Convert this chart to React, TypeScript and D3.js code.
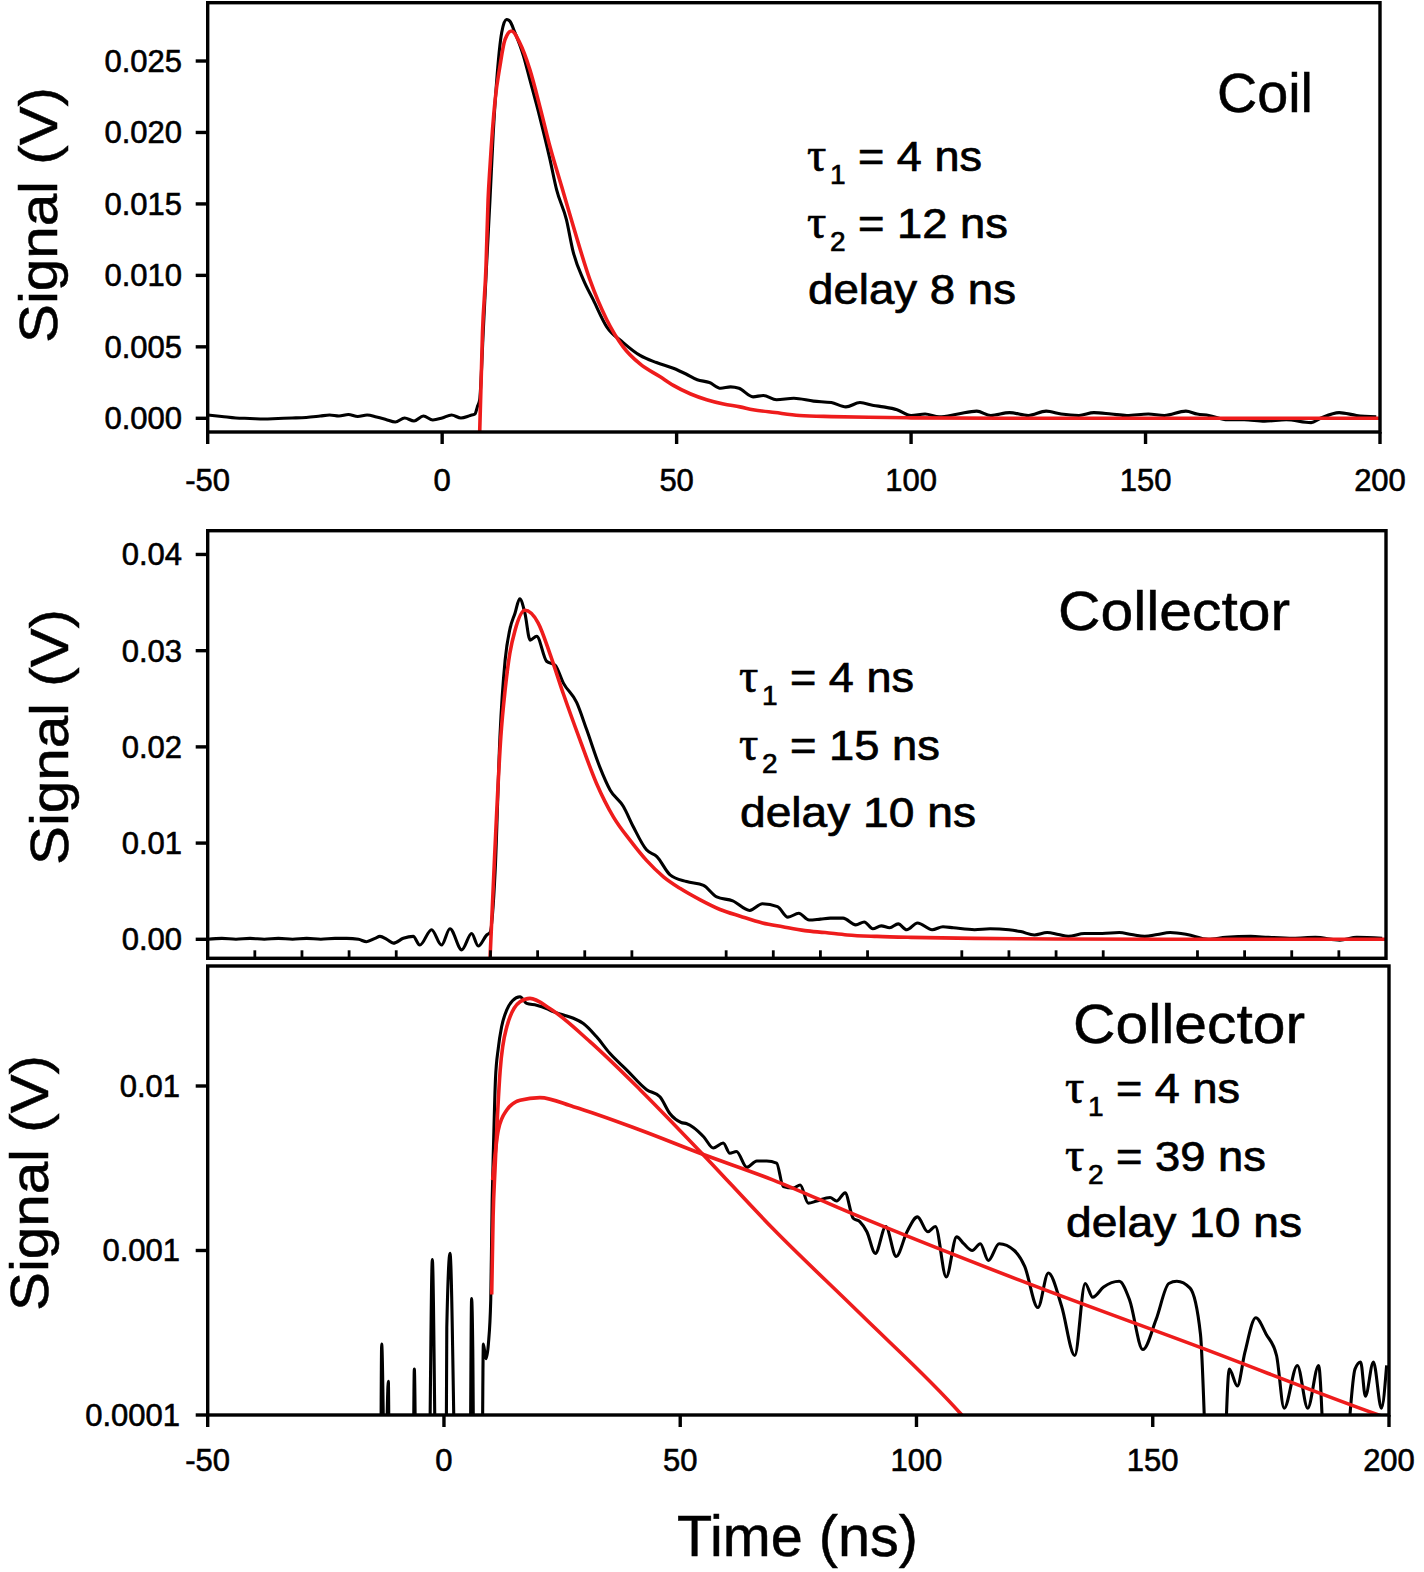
import React from "react";
import * as d3 from "d3";

// ---------- DATA ----------
const X_TICKS = [-50, 0, 50, 100, 150, 200];
const X_MINOR_TICKS = [-40, -30, -20, -10, 10, 20, 30, 40, 60, 70, 80, 90, 110, 120, 130, 140, 160, 170, 180, 190];
const COIL_Y_TICKS = [0, 0.005, 0.01, 0.015, 0.02, 0.025];
const COLL_Y_TICKS = [0, 0.01, 0.02, 0.03, 0.04];
const LOG_Y_TICKS = [0.0001, 0.001, 0.01];
const LOG_Y_LABELS = ["0.0001", "0.001", "0.01"];

// Panel 1 : coil signal (black) and fit (red)  [time ns, signal V]
const COIL_SIGNAL: [number, number][] = [
  [-50, 0.00023], [-47, 0.00013], [-44, 0.00002], [-41, -0.00001], [-38, -0.00005], [-35, -0.00001], [-32, 0.00002], [-29, 0.00006], [-26, 0.00016], [-24, 0.00023],
  [-22, 0.00016], [-20, 0.00027], [-18, 0.00013], [-16, 0.00023], [-14, 0.00009], [-12, -0.00008], [-10, -0.00026], [-8, 0.00002], [-6, -0.00019], [-4, 0.00016],
  [-2, -0.00012], [0, 0.00002], [2, 0.00023], [4, 0.00002], [6, 0.0002], [7, 0.0003], [7.5, 0.0008], [8, 0.0013], [8.75, 0.006], [9.45, 0.0106],
  [10.2, 0.0153], [10.9, 0.02], [11.6, 0.0235], [12.7, 0.027], [13.7, 0.0279], [14.4, 0.0278], [15.5, 0.027], [17.3, 0.0254], [18.7, 0.0237], [20.8, 0.0211],
  [23, 0.0181], [24.4, 0.016], [26.5, 0.0139], [27.9, 0.0117], [30.1, 0.0097], [32.2, 0.0083], [35.1, 0.0064], [38.6, 0.0053], [42.2, 0.0044], [45.7, 0.0039],
  [49.3, 0.0035], [52, 0.0031], [54.4, 0.0027], [57, 0.0025], [59.4, 0.0021], [61.5, 0.0022], [63.3, 0.0021], [66.3, 0.0015], [68.5, 0.0016], [71.3, 0.0013],
  [75, 0.0014], [79.2, 0.0012], [83, 0.0011], [86.1, 0.0008], [89.1, 0.0011], [92, 0.0009], [94.1, 0.0008], [97, 0.0006], [100, 0.0002], [103, 0.0003],
  [106, 0.0001], [110, 0.0003], [114, 0.0005], [117, 0.0002], [121, 0.0004], [125, 0.0002], [128.8, 0.0005], [132, 0.0003], [135.8, 0.0002], [139, 0.0004],
  [142.7, 0.0003], [146, 0.0002], [150.6, 0.0003], [154, 0.0002], [158.6, 0.0005], [161, 0.0003], [163.5, 0.0002], [167.5, -0.0001], [171, -0.0001], [175.4, -0.0002],
  [180, -0.0001], [185.3, -0.0003], [187.3, 0], [191.3, 0.0004], [195, 0.0002], [199.2, 0.0001],
];
const COIL_FIT: [number, number][] = [
  [8.0, -0.001], [8.6, 0.006], [9.35, 0.0106], [9.8, 0.0153], [10.2, 0.0176], [11.3, 0.0223], [12.3, 0.0246], [13.4, 0.0265], [14.8, 0.0271], [16.5, 0.0263],
  [18.7, 0.0244], [21, 0.0216], [23, 0.019], [25.5, 0.0162], [28, 0.0134], [31.5, 0.0097], [35.1, 0.0069], [38.6, 0.005], [42.2, 0.0038], [46.5, 0.0029],
  [49.3, 0.0023], [53, 0.0017], [56.4, 0.0013], [60, 0.001], [63.5, 0.0008], [66.3, 0.0006], [71, 0.0004], [76.2, 0.0002], [83, 0.00012], [91, 0.00007],
  [100, 0.00003], [120, 0], [200, 0],
];

// Panel 2 : collector signal (linear)
const COLL_SIGNAL: [number, number][] = [
  [-50, 0], [-47, 0.0001], [-44, 0], [-41, 0.0001], [-38, 0], [-35, 0.0001], [-32, 0], [-29, 0.0001], [-26, 0], [-23, 0.0001],
  [-20.5, 0.0001], [-18, 0], [-16.3, -0.00025], [-14.5, 0.0001], [-13.45, 0.0003], [-12, 0], [-10.6, -0.0004], [-8.5, 0.0001], [-6.4, 0.0003], [-5, -0.0006],
  [-2.5, 0.001], [-0.4, -0.0006], [1.4, 0.0011], [3.9, -0.0011], [6, 0.0006], [7.4, -0.0007], [9.2, 0.00045], [9.9, 0.0007], [11, 0.0072], [12, 0.021],
  [13.1, 0.029], [14.1, 0.0322], [15.2, 0.0339], [16.2, 0.0354], [17.3, 0.0339], [18.4, 0.0311], [19.8, 0.0315], [21.9, 0.0289], [23.7, 0.0285], [25.5, 0.0266],
  [28.3, 0.0246], [30.4, 0.0218], [33.2, 0.0179], [35.4, 0.0155], [38.2, 0.0138], [40.3, 0.0117], [43.1, 0.0093], [45.3, 0.0086], [48.1, 0.0067], [51.6, 0.006],
  [55.2, 0.0056], [58, 0.0044], [61.4, 0.004], [65, 0.003], [67.7, 0.0037], [70.9, 0.0034], [73.1, 0.0023], [75.4, 0.0027], [77.6, 0.002], [80, 0.0021],
  [82.1, 0.0022], [84.8, 0.0022], [87.5, 0.0015], [89.3, 0.0018], [91.1, 0.0011], [92.9, 0.0014], [94.7, 0.0012], [96.5, 0.0016], [98.3, 0.001], [100.6, 0.0017],
  [103.7, 0.001], [106, 0.0013], [108.2, 0.0012], [112.7, 0.001], [116, 0.0011], [120, 0.001], [122.5, 0.0008], [125.4, 0.00045], [128.1, 0.0007], [130.5, 0.0005],
  [132.6, 0.0003], [136, 0.0006], [139.8, 0.0006], [143.4, 0.0007], [146, 0.0005], [148.8, 0.0003], [151.5, 0.0005], [154.2, 0.0007], [157.8, 0.0005], [162.3, 0],
  [166, 0.0002], [171.3, 0.0003], [175, 0.0002], [180.3, 0.0001], [185, 0.0002], [190.2, -0.0001], [193.8, 0.0002], [199.2, 0.0001],
];
const COLL_FIT: [number, number][] = [
  [9.9, -0.002], [10.9, 0.0089], [12.2, 0.0211], [13.1, 0.0259], [14.1, 0.0297], [15.2, 0.0321], [17.3, 0.0342], [20.1, 0.0329], [22.6, 0.0297], [25.4, 0.0256],
  [29, 0.0207], [32.5, 0.0162], [36.1, 0.0127], [39.6, 0.0103], [43.1, 0.0082], [46.7, 0.0065], [50.2, 0.0053], [54.5, 0.0041], [58.7, 0.0031], [63, 0.0024],
  [67.7, 0.0017], [72, 0.0013], [76.7, 0.0009], [81, 0.0007], [85.7, 0.00045], [92, 0.0003], [99.2, 0.0002], [112.7, 0.0001], [130, 0.00003], [160, 0], [200, 0],
];

// Panel 3 : collector signal on log axis (values under 1e-4 fall below the axis)
const LOG_SIGNAL: [number, number][] = [
  [-13.4, 0.00002], [-13.18, 0.00027], [-12.47, 0.00003], [-11.77, 0.00016], [-11.5, 0.00002], [-6.6, 0.00002], [-6.27, 0.00019], [-5.8, 0.00002], [-3.3, 0.00002], [-2.46, 0.00088],
  [-1.54, 0.00002], [0.4, 0.00002], [0.6, 0.00034], [1.28, 0.00096], [2.7, 0.00002], [5.45, 0.00002], [5.85, 0.00051], [6.1, 0.00025], [6.4, 0.00002], [7.98, 0.00002],
  [8.34, 0.00027], [8.9, 0.00022], [9.4, 0.00027], [9.9, 0.0005], [10.2, 0.002], [10.5, 0.0045], [10.9, 0.011], [11.5, 0.017], [12.2, 0.0229], [13.3, 0.029],
  [14.5, 0.033], [16.1, 0.0349], [17.5, 0.0318], [19.6, 0.031], [21.7, 0.0296], [23.1, 0.0283], [25.3, 0.027], [27.4, 0.0258], [29.5, 0.024], [32.3, 0.0199],
  [35.1, 0.0158], [38.7, 0.0125], [42.9, 0.0095], [45.7, 0.0086], [47.8, 0.0068], [50.2, 0.006], [51.4, 0.0059], [52.8, 0.0056], [55, 0.0049], [57, 0.0042],
  [59.1, 0.0045], [60.5, 0.0039], [61.9, 0.004], [64.1, 0.0032], [66.2, 0.0035], [68.3, 0.0035], [70.4, 0.0034], [71.8, 0.00245], [73.9, 0.0024], [75.4, 0.0025],
  [77.1, 0.00194], [78.9, 0.002], [81.7, 0.0021], [83.1, 0.002], [84.9, 0.00224], [86.6, 0.00157], [88, 0.0015], [89.5, 0.0013], [91.3, 0.00096], [93.5, 0.0014],
  [95.7, 0.00092], [98, 0.0013], [100.2, 0.0016], [102.4, 0.0013], [104, 0.0014], [106.3, 0.00069], [108.5, 0.00121], [110, 0.0011], [111.8, 0.001], [113.5, 0.0011],
  [115.2, 0.00087], [117.5, 0.0011], [120.7, 0.001], [122.9, 0.0008], [125.7, 0.00045], [127.9, 0.00073], [130.7, 0.00046], [133.5, 0.00023], [135.7, 0.00063], [137.3, 0.00052],
  [139.6, 0.0006], [142.9, 0.00065], [145.1, 0.0005], [147.9, 0.00025], [150.7, 0.00038], [153.4, 0.00063], [155.1, 0.00065], [157.9, 0.00059], [160.1, 0.00031], [161.8, 0.00003],
  [164.5, 0.00002], [166.2, 0.00019], [167.9, 0.00015], [169.5, 0.00024], [171.8, 0.00039], [174, 0.00031], [176.2, 0.00023], [177.8, 0.00011], [180.6, 0.0002], [182.8, 0.00011],
  [185.1, 0.0002], [186.7, 0.00004], [188.4, 0.00009], [190.5, 0.00005], [192.8, 0.00019], [194, 0.00021], [195, 0.00013], [196.7, 0.00021], [198.4, 0.00011], [199.5, 0.0002],
];
const LOG_FIT_FAST: [number, number][] = [
  [10.1, 0.00054], [10.4, 0.0016], [10.8, 0.0031], [11.9, 0.0125], [13.3, 0.0229], [16.1, 0.0325], [18.2, 0.0341], [22.4, 0.0296], [30.9, 0.0186], [41.5, 0.0095],
  [54.2, 0.004], [69.7, 0.00135], [88, 0.000415], [109.6, 0.0001], [111, 0.00009],
];
const LOG_FIT_SLOW: [number, number][] = [
  [10.3, 0.00268], [11.5, 0.0054], [13.3, 0.00714], [16.1, 0.0082], [20.3, 0.0085], [27.4, 0.00748], [41.5, 0.0054], [54.2, 0.0039], [69.7, 0.00268], [86.3, 0.00168],
  [121.8, 0.00066], [160.6, 0.000254], [197.8, 0.0001], [200, 0.000095],
];

// Annotations
const PANEL_TITLES = ["Coil", "Collector", "Collector"];
const TAU1_TEXT = ["= 4 ns", "= 4 ns", "= 4 ns"];
const TAU2_TEXT = ["= 12 ns", "= 15 ns", "= 39 ns"];
const DELAY_TEXT = ["delay 8 ns", "delay 10 ns", "delay 10 ns"];

// ---------- LAYOUT ----------
const FONT = "'Liberation Sans', Arial, Helvetica, sans-serif";
const SERIF = "'Liberation Serif', 'DejaVu Serif', serif";
const RED = "#ee1c1c";
const SW = 3.4;

const P1 = { left: 207.7, right: 1380, top: 2.7, bottom: 432 };
const P2 = { left: 207.7, right: 1386, top: 530.7, bottom: 958.3 };
const P3 = { left: 207.7, right: 1389, top: 966, bottom: 1415 };

const x1 = d3.scaleLinear().domain([-50, 200]).range([P1.left, P1.right]);
const x2 = d3.scaleLinear().domain([-50, 200]).range([P2.left, P2.right]);
const x3 = d3.scaleLinear().domain([-50, 200]).range([P3.left, P3.right]);
const y1 = d3.scaleLinear().domain([-0.000959, 0.02908]).range([P1.bottom, P1.top]);
const y2 = d3.scaleLinear().domain([-0.001975, 0.04247]).range([P2.bottom, P2.top]);
const y3 = d3.scaleLog().domain([0.0001, 0.05363]).range([P3.bottom, P3.top]);

function path(data: [number, number][], xs: any, ys: any) {
  return d3
    .line<[number, number]>()
    .x((d) => xs(d[0]))
    .y((d) => ys(d[1]))
    .curve(d3.curveMonotoneX)(data) || "";
}

const heavy = { stroke: "#000", strokeWidth: 0.7 };

function Annot({ x, yb, i, titleX, titleY, titleW }: any) {
  const fs = 42;
  const sub = 28;
  return (
    <g fontFamily={FONT} fill="#000">
      <text x={titleX} y={titleY} fontSize={56} textLength={titleW} lengthAdjust="spacingAndGlyphs" {...heavy} strokeWidth={0.5}>
        {PANEL_TITLES[i]}
      </text>
      {[0, 1].map((k) => (
        <g key={k}>
          <text x={x - 1} y={yb[k]} fontSize={fs + 6} fontFamily={SERIF} {...heavy}>τ</text>
          <text x={x + 22} y={yb[k] + 13} fontSize={sub} {...heavy}>{k === 0 ? "1" : "2"}</text>
          <text x={x + 50} y={yb[k]} fontSize={fs} textLength={k === 0 ? 124 : 150} lengthAdjust="spacingAndGlyphs" {...heavy}>
            {k === 0 ? TAU1_TEXT[i] : TAU2_TEXT[i]}
          </text>
        </g>
      ))}
      <text x={x} y={yb[2]} fontSize={fs} textLength={i === 0 ? 208 : 236} lengthAdjust="spacingAndGlyphs" {...heavy}>
        {DELAY_TEXT[i]}
      </text>
    </g>
  );
}

export default function App() {
  const yLabel = (cx: number, cy: number) => (
    <text
      transform={`translate(${cx + 15},${cy}) rotate(-90)`}
      textAnchor="middle"
      fontFamily={FONT}
      fontSize={54}
      textLength={256}
      lengthAdjust="spacingAndGlyphs"
      stroke="#000"
      strokeWidth={0.5}
    >
      Signal (V)
    </text>
  );
  const tickText = { fontFamily: FONT, fontSize: 31, stroke: "#000", strokeWidth: 0.6 };
  return (
    <svg width={1424} height={1572} style={{ position: "absolute", left: 0, top: 0, background: "#fff" }}>
      <rect x={0} y={0} width={1424} height={1572} fill="#fff" />
      <defs>
        <clipPath id="c1"><rect x={P1.left} y={P1.top} width={P1.right - P1.left} height={P1.bottom - P1.top} /></clipPath>
        <clipPath id="c2"><rect x={P2.left} y={P2.top} width={P2.right - P2.left} height={P2.bottom - P2.top} /></clipPath>
        <clipPath id="c3"><rect x={P3.left} y={P3.top} width={P3.right - P3.left} height={P3.bottom - P3.top} /></clipPath>
      </defs>

      {/* ---- Panel 1 ---- */}
      <g clipPath="url(#c1)" fill="none" strokeLinejoin="round">
        <path d={path(COIL_SIGNAL, x1, y1)} stroke="#000" strokeWidth={3.1} />
        <path d={path(COIL_FIT, x1, y1)} stroke={RED} strokeWidth={3.6} />
      </g>
      <rect x={P1.left} y={P1.top} width={P1.right - P1.left} height={P1.bottom - P1.top} fill="none" stroke="#000" strokeWidth={SW} />
      {COIL_Y_TICKS.map((t) => (
        <g key={t}>
          <line x1={P1.left - 12} x2={P1.left} y1={y1(t)} y2={y1(t)} stroke="#000" strokeWidth={SW} />
          <text x={182} y={y1(t) + 11} textAnchor="end" {...tickText}>{d3.format(".3f")(t)}</text>
        </g>
      ))}
      {X_TICKS.map((t) => (
        <g key={t}>
          <line x1={x1(t)} x2={x1(t)} y1={P1.bottom} y2={P1.bottom + 12} stroke="#000" strokeWidth={SW} />
          <text x={x1(t)} y={491} textAnchor="middle" {...tickText}>{t}</text>
        </g>
      ))}
      {yLabel(41.5, 215)}
      <Annot i={0} x={808} yb={[171, 238, 304]} titleX={1217} titleY={112} titleW={96} />

      {/* ---- Panel 2 ---- */}
      <g clipPath="url(#c2)" fill="none" strokeLinejoin="round">
        <path d={path(COLL_SIGNAL, x2, y2)} stroke="#000" strokeWidth={3.1} />
        <path d={path(COLL_FIT, x2, y2)} stroke={RED} strokeWidth={3.6} />
      </g>
      <rect x={P2.left} y={P2.top} width={P2.right - P2.left} height={P2.bottom - P2.top} fill="none" stroke="#000" strokeWidth={SW} />
      {COLL_Y_TICKS.map((t) => (
        <g key={t}>
          <line x1={P2.left - 12} x2={P2.left} y1={y2(t)} y2={y2(t)} stroke="#000" strokeWidth={SW} />
          <text x={182} y={y2(t) + 11} textAnchor="end" {...tickText}>{d3.format(".2f")(t)}</text>
        </g>
      ))}
      {X_MINOR_TICKS.map((t) => (
        <line key={t} x1={x2(t)} x2={x2(t)} y1={P2.bottom} y2={P2.bottom - 8} stroke="#000" strokeWidth={2.8} />
      ))}
      {yLabel(53, 737)}
      <Annot i={1} x={740} yb={[692, 760, 827]} titleX={1058} titleY={630} titleW={232} />

      {/* ---- Panel 3 ---- */}
      <g clipPath="url(#c3)" fill="none" strokeLinejoin="round">
        <path d={path(LOG_SIGNAL, x3, y3)} stroke="#000" strokeWidth={3.1} />
        <path d={path(LOG_FIT_FAST, x3, y3)} stroke={RED} strokeWidth={3.6} />
        <path d={path(LOG_FIT_SLOW, x3, y3)} stroke={RED} strokeWidth={3.6} />
      </g>
      <rect x={P3.left} y={P3.top} width={P3.right - P3.left} height={P3.bottom - P3.top} fill="none" stroke="#000" strokeWidth={SW} />
      {LOG_Y_TICKS.map((t, k) => (
        <g key={t}>
          <line x1={P3.left - 12} x2={P3.left} y1={y3(t)} y2={y3(t)} stroke="#000" strokeWidth={SW} />
          <text x={180} y={y3(t) + 11} textAnchor="end" {...tickText}>{LOG_Y_LABELS[k]}</text>
        </g>
      ))}
      {X_TICKS.map((t) => (
        <g key={t}>
          <line x1={x3(t)} x2={x3(t)} y1={P3.bottom} y2={P3.bottom + 12} stroke="#000" strokeWidth={SW} />
          <text x={x3(t)} y={1471} textAnchor="middle" {...tickText}>{t}</text>
        </g>
      ))}
      {yLabel(33, 1183)}
      <Annot i={2} x={1066} yb={[1103, 1171, 1237]} titleX={1073} titleY={1043} titleW={232} />

      <text x={797.5} y={1556} textAnchor="middle" fontFamily={FONT} fontSize={57} textLength={241} lengthAdjust="spacingAndGlyphs" stroke="#000" strokeWidth={0.5}>
        Time (ns)
      </text>
    </svg>
  );
}
